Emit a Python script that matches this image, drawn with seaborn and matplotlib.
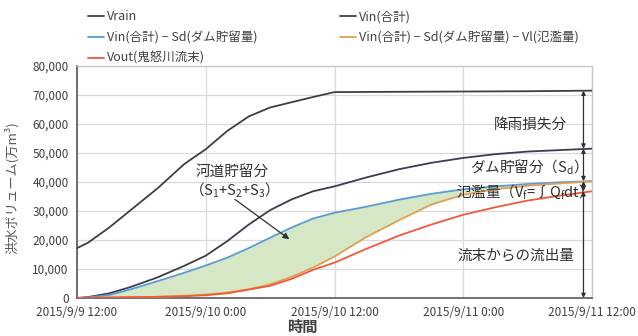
import matplotlib
matplotlib.use("Agg")
import matplotlib.pyplot as plt
import numpy as np
import pandas as pd
import seaborn as sns

# elapsed hours from 2015/9/9 12:00
hours = [0, 1, 3, 5, 7.5, 10, 12, 14, 16, 18, 20, 22, 24, 27, 30, 33, 36, 39, 42, 45, 48]

# flood volumes (10^4 m3)
v_rain = [17200, 19000, 24300, 30300, 37800, 46200, 51300, 57600, 62600, 65700, 67500,
          69300, 71000, 71050, 71100, 71150, 71200, 71250, 71300, 71400, 71500]
v_in = [0, 300, 1600, 3800, 7100, 11100, 14600, 19600, 25300, 30300, 34000,
        36800, 38500, 41600, 44400, 46600, 48300, 49600, 50500, 51000, 51500]
v_in_sd = [0, 200, 1000, 3000, 5800, 8700, 11200, 13900, 17200, 20800, 24300,
           27400, 29400, 31500, 33900, 35900, 37500, 38500, 39300, 39900, 40300]
v_in_sd_vl = [0, 0, 100, 150, 400, 800, 1200, 1900, 3000, 4700, 7300,
              10500, 14300, 21100, 26800, 32200, 35600, 37500, 38700, 39500, 40200]
v_out = [0, 50, 200, 300, 400, 600, 950, 1600, 2900, 4200, 6600,
         9700, 12200, 17000, 21500, 25300, 28700, 31300, 33600, 35300, 36800]

series_names = ["Vrain", "Vin(合計)", "Vin(合計) − Sd(ダム貯留量)",
                "Vin(合計) − Sd(ダム貯留量) − Vl(氾濫量)", "Vout(鬼怒川流末)"]
series_colors = ["#3f3f3f", "#3d3d4f", "#5b9bd5", "#e0a055", "#ee5a3a"]

tick_hours = [0, 12, 24, 36, 48]
tick_labels = ["2015/9/9 12:00", "2015/9/10 0:00", "2015/9/10 12:00",
               "2015/9/11 0:00", "2015/9/11 12:00"]
y_ticks = [0, 10000, 20000, 30000, 40000, 50000, 60000, 70000, 80000]

# breakdown levels along the right-hand bracket
bracket_hour = 47.2
bracket_levels = [71500, 51500, 40300, 36800, 0]

sns.set_theme(style="whitegrid")
plt.rcParams["font.family"] = ["Noto Sans CJK JP", "DejaVu Sans"]
plt.rcParams["mathtext.fontset"] = "custom"
plt.rcParams["mathtext.rm"] = "Noto Sans CJK JP"
plt.rcParams["mathtext.it"] = "Noto Sans CJK JP"

df = pd.DataFrame({"hour": hours})
for name, vals in zip(series_names, [v_rain, v_in, v_in_sd, v_in_sd_vl, v_out]):
    df[name] = vals
long = df.melt(id_vars="hour", var_name="series", value_name="volume")

fig = plt.figure(figsize=(6.38, 3.36), dpi=100)
ax = fig.add_axes([0.1207, 0.1131, 0.8073, 0.6905])

# channel storage band between the two intermediate curves
ax.fill_between(hours, v_in_sd, v_in_sd_vl, color="#d6e7c6", zorder=1, linewidth=0)

sns.lineplot(data=long, x="hour", y="volume", hue="series", hue_order=series_names,
             palette=dict(zip(series_names, series_colors)), linewidth=1.3,
             ax=ax, zorder=3, legend=True)

ax.set_xlim(0, 48)
ax.set_ylim(0, 80000)
ax.set_xticks(tick_hours)
ax.set_xticklabels(tick_labels)
ax.set_yticks(y_ticks)
ax.set_yticklabels([f"{v:,}" for v in y_ticks])
ax.tick_params(axis="both", length=0, labelsize=8.5, labelcolor="#404040", pad=6)
ax.grid(True, color="#d9d9d9", linewidth=0.9)
ax.set_facecolor("white")
ax.set_xlabel("")
ax.set_ylabel("")
for side in ["left", "bottom"]:
    ax.spines[side].set_color("#595959")
    ax.spines[side].set_linewidth(1.2)
for side in ["top", "right"]:
    ax.spines[side].set_color("#c8c8c8")
    ax.spines[side].set_linewidth(1.0)

# legend: two columns, row-major order
handles, labels = ax.get_legend_handles_labels()
lookup = dict(zip(labels, handles))
order = [series_names[0], series_names[2], series_names[4], series_names[1], series_names[3]]
ax.legend([lookup[n] for n in order], order, ncol=2, loc="upper left",
          bbox_to_anchor=(0.012, 1.262), frameon=False, fontsize=9,
          handlelength=1.3, handletextpad=0.2, columnspacing=6.6,
          labelspacing=0.62, labelcolor="#404040", borderaxespad=0)

# right-hand bracket arrows
for top, bottom in zip(bracket_levels[:-1], bracket_levels[1:]):
    ax.annotate("", xy=(bracket_hour, bottom), xytext=(bracket_hour, top),
                arrowprops=dict(arrowstyle="<|-|>", color="#303030", lw=0.9,
                                mutation_scale=6, shrinkA=0, shrinkB=0), zorder=5)

txt = dict(fontsize=10.5, color="#303030", zorder=6)
ax.text(45.7, 59800, "降雨損失分", ha="right", va="center", **txt)
ax.text(46.8, 45200, "ダム貯留分（S$_d$）", ha="right", va="center", **txt)
ax.text(47.3, 36600, "氾濫量（V$_f$=∫Q$_f$dt）", ha="right", va="center", **txt)
ax.text(46.4, 14500, "流末からの流出量", ha="right", va="center", **txt)

ax.text(14.5, 43500, "河道貯留分", ha="center", va="center", **txt)
ax.text(14.3, 37300, "（S$_1$+S$_2$+S$_3$）", ha="center", va="center", **txt)
ax.annotate("", xy=(20.0, 19700), xytext=(14.5, 34600),
            arrowprops=dict(arrowstyle="-|>", color="#303030", lw=0.9,
                            mutation_scale=9), zorder=6)

fig.text(302 / 638, 1 - 327 / 336, "時間", ha="center", va="center",
         fontsize=11, fontweight="bold", color="#404040")
fig.text(12 / 638, 1 - 188 / 336, "洪水ボリューム(万m³)", rotation=90,
         ha="center", va="center", fontsize=9.5, color="#595959")

fig.savefig("out.png", dpi=100)
